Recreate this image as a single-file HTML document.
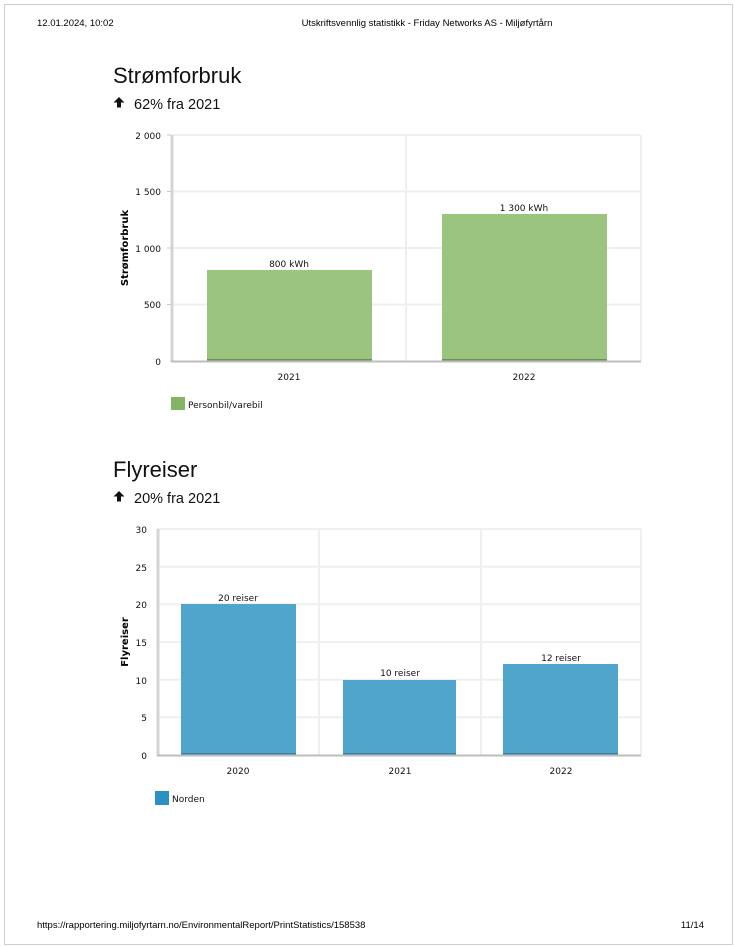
<!DOCTYPE html>
<html><head><meta charset="utf-8"><style>
html,body{margin:0;padding:0;background:#fff;}
svg{display:block;}
.c{font-family:"DejaVu Sans",sans-serif;}
</style></head><body>
<svg width="735" height="947" xmlns="http://www.w3.org/2000/svg" font-family="'Liberation Sans', 'DejaVu Sans', sans-serif">
<rect x="4.5" y="4.5" width="728" height="940" fill="#fff" stroke="#cfcfcf" stroke-width="1"/>
<text x="37" y="26" font-size="9.5" fill="#000">12.01.2024, 10:02</text>
<text x="427" y="26" font-size="9.5" fill="#000" text-anchor="middle">Utskriftsvennlig statistikk - Friday Networks AS - Miljøfyrtårn</text>
<text x="37" y="928" font-size="9.5" fill="#000">https://rapportering.miljofyrtarn.no/EnvironmentalReport/PrintStatistics/158538</text>
<text x="704" y="928" font-size="9.5" fill="#000" text-anchor="end">11/14</text>

<!-- Chart 1 -->
<text x="113" y="83" font-size="22" fill="#111">Strømforbruk</text>
<path d="M119 97 l5.5 5.5 h-3.5 v5 h-4 v-5 h-3.5 z" fill="#111"/>
<text x="134" y="109" font-size="14.5" fill="#111">62% fra 2021</text>
<g stroke="#efefef" stroke-width="2">
<line x1="171" y1="135" x2="641" y2="135"/>
<line x1="171" y1="191.5" x2="641" y2="191.5"/>
<line x1="171" y1="248" x2="641" y2="248"/>
<line x1="171" y1="304.5" x2="641" y2="304.5"/>
<line x1="406" y1="135" x2="406" y2="361"/>
<line x1="641" y1="135" x2="641" y2="361"/>
</g>
<line x1="172" y1="135" x2="172" y2="362" stroke="#d4d4d4" stroke-width="3"/>
<g stroke="#c8c8c8" stroke-width="1"><line x1="167" y1="135" x2="171" y2="135"/><line x1="167" y1="191.5" x2="171" y2="191.5"/><line x1="167" y1="248" x2="171" y2="248"/><line x1="167" y1="304.5" x2="171" y2="304.5"/></g>
<rect x="207" y="270" width="165" height="91" fill="#9bc57e"/>
<rect x="442" y="214" width="165" height="147" fill="#9bc57e"/>
<rect x="207" y="359" width="165" height="2" fill="#6e9156"/>
<rect x="442" y="359" width="165" height="2" fill="#6e9156"/>
<line x1="171" y1="361.5" x2="641" y2="361.5" stroke="#bdbdbd" stroke-width="2"/>
<g class="c" font-size="9" fill="#111" text-anchor="end">
<text x="161" y="139">2 000</text><text x="161" y="195">1 500</text><text x="161" y="252">1 000</text><text x="161" y="308">500</text><text x="161" y="365">0</text>
</g>
<text class="c" transform="translate(128,248) rotate(-90)" font-size="10" font-weight="bold" text-anchor="middle" fill="#000">Strømforbruk</text>
<g class="c" font-size="9" fill="#111" text-anchor="middle">
<text x="289" y="267">800 kWh</text><text x="524" y="211">1 300 kWh</text>
<text x="289" y="380">2021</text><text x="524" y="380">2022</text>
</g>
<rect x="171" y="397" width="14" height="13" fill="#84b565"/>
<text class="c" x="188" y="408" font-size="9" fill="#111">Personbil/varebil</text>

<!-- Chart 2 -->
<text x="113" y="477" font-size="22" fill="#111">Flyreiser</text>
<path d="M119 491 l5.5 5.5 h-3.5 v5 h-4 v-5 h-3.5 z" fill="#111"/>
<text x="134" y="503" font-size="14.5" fill="#111">20% fra 2021</text>
<g stroke="#efefef" stroke-width="2">
<line x1="157" y1="529" x2="641" y2="529"/>
<line x1="157" y1="566.7" x2="641" y2="566.7"/>
<line x1="157" y1="604.3" x2="641" y2="604.3"/>
<line x1="157" y1="642" x2="641" y2="642"/>
<line x1="157" y1="679.7" x2="641" y2="679.7"/>
<line x1="157" y1="717.3" x2="641" y2="717.3"/>
<line x1="319" y1="529" x2="319" y2="755"/>
<line x1="481" y1="529" x2="481" y2="755"/>
<line x1="641" y1="529" x2="641" y2="755"/>
</g>
<line x1="158" y1="529" x2="158" y2="756" stroke="#d4d4d4" stroke-width="3"/>
<rect x="181" y="604" width="115" height="151" fill="#4fa5cb"/>
<rect x="343" y="680" width="113" height="75" fill="#4fa5cb"/>
<rect x="503" y="664" width="115" height="91" fill="#4fa5cb"/>
<rect x="181" y="753" width="115" height="2" fill="#3b7f9d"/>
<rect x="343" y="753" width="113" height="2" fill="#3b7f9d"/>
<rect x="503" y="753" width="115" height="2" fill="#3b7f9d"/>
<line x1="157" y1="755.5" x2="641" y2="755.5" stroke="#bdbdbd" stroke-width="2"/>
<g class="c" font-size="9" fill="#111" text-anchor="end">
<text x="147" y="533">30</text><text x="147" y="571">25</text><text x="147" y="608">20</text><text x="147" y="646">15</text><text x="147" y="684">10</text><text x="147" y="721">5</text><text x="147" y="759">0</text>
</g>
<text class="c" transform="translate(128,642) rotate(-90)" font-size="10" font-weight="bold" text-anchor="middle" fill="#000">Flyreiser</text>
<g class="c" font-size="9" fill="#111" text-anchor="middle">
<text x="238" y="601">20 reiser</text><text x="400" y="676">10 reiser</text><text x="561" y="661">12 reiser</text>
<text x="238" y="774">2020</text><text x="400" y="774">2021</text><text x="561" y="774">2022</text>
</g>
<rect x="155" y="791" width="14" height="14" fill="#2b91c2"/>
<text class="c" x="172" y="802" font-size="9" fill="#111">Norden</text>
</svg>
</body></html>
